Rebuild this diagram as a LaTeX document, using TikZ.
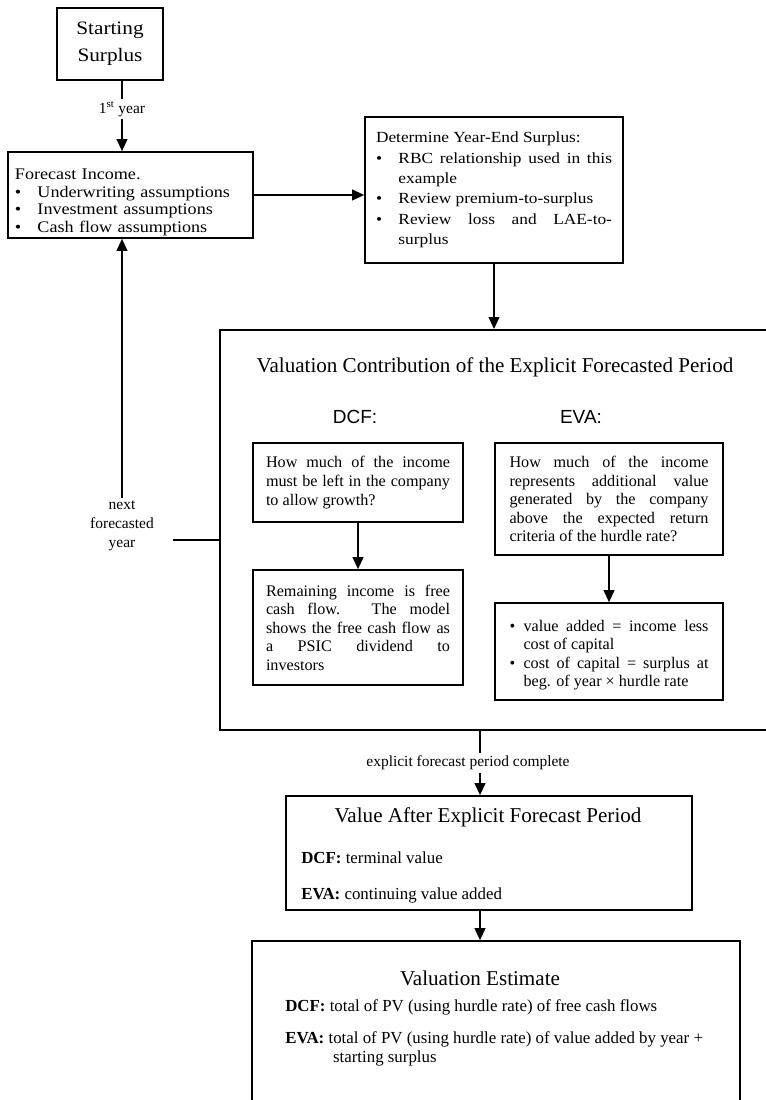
\documentclass[tikz,border=0pt]{standalone}
\usepackage{fontspec}
\setmainfont{Liberation Serif}
\setsansfont{Liberation Sans}
\newfontfamily\widefont[FakeStretch=1.12]{Liberation Serif}
\usetikzlibrary{arrows.meta,positioning,calc}
\setlength{\parindent}{0pt}
\tolerance=10000
\hbadness=10000
\newcommand{\bitem}[2][16pt]{\par\hangindent=#1\hangafter=1\noindent\makebox[#1][l]{\textbullet}#2\par}

\begin{document}
\begin{tikzpicture}[x=0.25mm, y=-0.25mm,
  box/.style={rectangle, draw, line width=1.2pt, inner sep=0pt},
  arrow/.style={-{Triangle[length=3mm, width=2.7mm]}, line width=1.1pt},
  itxt/.style={font=\fontsize{11.5}{13.2}\selectfont, align=justify},
  head/.style={font=\fontsize{15}{18}\selectfont},
  sub/.style={font=\sffamily\fontsize{13.5}{16}\selectfont},
  entry/.style={font=\fontsize{12}{13.5}\selectfont, anchor=west, inner sep=0pt},
  lbl/.style={font=\fontsize{11}{13.5}\selectfont, fill=white, inner sep=2pt, align=center}
]
\useasboundingbox (0,0) rectangle (766,1100);
\clip (0,0) rectangle (766,1100);

% start and first year
\node[box, minimum width=26.5mm, minimum height=18mm, align=center,
      font=\widefont\fontsize{13.5}{19}\selectfont] (start) at (110,44) {Starting\\Surplus};

\node[box, minimum width=61.25mm, minimum height=21.5mm, text width=57.75mm, align=left,
      font=\widefont\fontsize{11.5}{12.6}\selectfont] (fcst) at (130.5,195) {\rule{0pt}{18pt}Forecast Income.
  \bitem{Underwriting assumptions}
  \bitem{Investment assumptions}
  \bitem{Cash flow assumptions}};

\node[box, minimum width=64.5mm, minimum height=36.5mm, text width=59mm, align=justify,
      font=\widefont\fontsize{11}{14.5}\selectfont] (det) at (494,190) {Determine Year-End Surplus:
  \bitem{RBC relationship used in this\linebreak example}
  \bitem{Review premium-to-surplus}
  \bitem{Review loss and LAE-to-\linebreak surplus}};

% explicit forecast period
\node[box, line width=1.4pt, minimum width=145mm, minimum height=100mm] (big) at (510,530) {};
\node[head] (bigttl) at (495,367) {Valuation Contribution of the Explicit Forecasted Period};
\node[sub] (dcfhd) at (355,417) {DCF:};
\node[sub] (evahd) at (581,417) {EVA:};

\node[box, itxt, minimum width=52.5mm, minimum height=19.75mm, text width=46mm] (dcfq) at (358,482.5)
  {How much of the income\linebreak must be left in the company\linebreak to allow growth?};
\node[box, itxt, minimum width=52.5mm, minimum height=28.75mm, text width=46mm] (dcfa) at (358,627.5)
  {Remaining income is free\linebreak cash flow. The model\linebreak shows the free cash flow as\linebreak a PSIC dividend to\linebreak investors};

\node[box, itxt, minimum width=57mm, minimum height=28mm, text width=49.75mm] (evaq) at (609,499)
  {How much of the income\linebreak represents additional value\linebreak generated by the company\linebreak above the expected return\linebreak criteria of the hurdle rate?};
\node[box, itxt, minimum width=57mm, minimum height=24.25mm, text width=49.75mm] (evaa) at (609,651.5)
  {\bitem[10pt]{value added = income less\linebreak cost of capital}
   \bitem[10pt]{cost of capital = surplus at\linebreak beg. of year × hurdle rate}};

\node[lbl, fill=none] (nxt) at (122,526) {next\\forecasted\\year};
\coordinate (nl) at (173,540);
\coordinate (spine) at (480,0);

% after the explicit period
\node[box, minimum width=101.5mm, minimum height=28.5mm] (val) at (489,853) {};
\node[head] (valttl) at (488,817) {Value After Explicit Forecast Period};
\node[entry] (valdcf) at (301,858) {\textbf{DCF:} terminal value};
\node[entry] (valeva) at (301,895) {\textbf{EVA:} continuing value added};

\node[box, minimum width=122mm, minimum height=50mm] (est) at (496,1041) {};
\node[head] (estttl) at (480,978) {Valuation Estimate};
\node[entry] (estdcf) at (285,1007) {\textbf{DCF:} total of PV (using hurdle rate) of free cash flows};
\node[entry, anchor=north west, align=left] (esteva) at (285,1031)
  {\textbf{EVA:} total of PV (using hurdle rate) of value added by year +\\\hspace*{34pt}starting surplus};

% connectors
\draw[arrow] (start.south -| nxt) -- node[lbl, pos=0.4]{1\textsuperscript{st} year} (fcst.north -| nxt);
\draw[arrow] (fcst.east) -- (fcst.east -| det.west);
\draw[arrow] (det.south) -- (det.south |- big.north);
\draw[arrow] (dcfq.south) -- (dcfa.north);
\draw[arrow] (evaq.south) -- (evaa.north);
\draw[line width=1.1pt] (nl -| big.west) -- (nl);
\draw[arrow] (nxt.north) -- (nxt.north |- fcst.south);
\draw[arrow] (big.south -| spine) -- node[lbl, xshift=-3mm]{explicit forecast period complete} (val.north -| spine);
\draw[arrow] (val.south -| spine) -- (est.north -| spine);

\end{tikzpicture}
\end{document}
